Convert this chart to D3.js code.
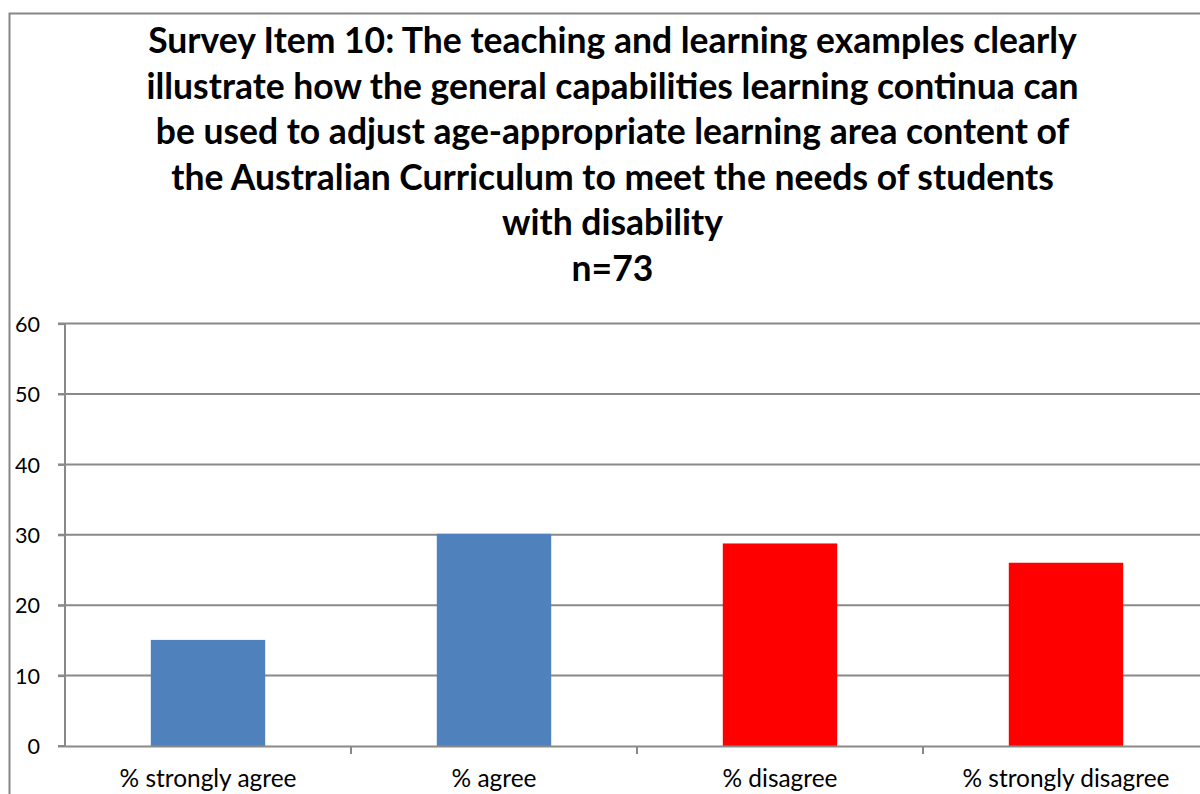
<!DOCTYPE html>
<html><head><meta charset="utf-8">
<script src="https://cdn.jsdelivr.net/npm/d3@7"></script>
<style>body{margin:0;background:#fff}svg{display:block}</style>
</head><body>
<script>
const categories = ["% strongly agree", "% agree", "% disagree", "% strongly disagree"];
const values = [15.07, 30.14, 28.77, 26.03];
const colors = ["#4F81BD", "#4F81BD", "#FF0000", "#FF0000"];
const yTicks = [0, 10, 20, 30, 40, 50, 60];
const titleLines = [
  "Survey Item 10: The teaching and learning examples clearly",
  "illustrate how the general capabilities learning continua can",
  "be used to adjust age-appropriate learning area content of",
  "the Australian Curriculum to meet the needs of students",
  "with disability",
  "n=73"
];

const W = 1200, H = 794;
const svg = d3.select("body").append("svg").attr("width", W).attr("height", H);
svg.append("rect").attr("x", 9.5).attr("y", 13.5).attr("width", 1205).attr("height", 800)
  .attr("fill", "#fff").attr("stroke", "#868686").attr("stroke-width", 2);

const font = "Lato, 'Open Sans', sans-serif";
const plot = {x0: 65, x1: 65 + 4 * 286, y0: 746, y1: 323.6};
const x = d3.scaleBand().domain(categories).range([plot.x0, plot.x1]).paddingInner(0.6).paddingOuter(0.3);
const xb = d3.scaleBand().domain(categories).range([plot.x0, plot.x1]);
const y = d3.scaleLinear().domain([0, 60]).range([plot.y0, plot.y1]);

function fitSize(sel, text, target, weight) {
  const t = svg.append("text").attr("font-family", font).attr("font-size", 100)
    .attr("font-weight", weight || "normal").text(text);
  const w = t.node().getComputedTextLength();
  t.remove();
  return 100 * target / w;
}

// gridlines
svg.append("g").selectAll("line").data(yTicks.filter(d => d > 0)).join("line")
  .attr("x1", plot.x0 - 7).attr("x2", W + 20)
  .attr("y1", d => y(d)).attr("y2", d => y(d))
  .attr("stroke", "#898989").attr("stroke-width", 2);

// bars
svg.append("g").selectAll("rect").data(values).join("rect")
  .attr("x", (d, i) => x(categories[i])).attr("width", x.bandwidth())
  .attr("y", d => y(d)).attr("height", d => y(0) - y(d))
  .attr("fill", (d, i) => colors[i]);

// y axis
const ySize = fitSize(svg, "10", 25);
const ya = svg.append("g").attr("transform", `translate(${plot.x0},0)`)
  .call(d3.axisLeft(y).tickValues(yTicks).tickSize(7).tickFormat(d3.format("d")));
ya.select(".domain").attr("stroke", "#898989").attr("stroke-width", 2).attr("d", `M-7,${y(0)}H0V${y(60)}`);
ya.selectAll(".tick line").attr("stroke", "#898989").attr("stroke-width", 2);
ya.selectAll(".tick text").attr("font-family", font).attr("font-size", ySize).attr("fill", "#000")
  .attr("x", -25).attr("dy", "0.36em").attr("text-anchor", "end");

// x axis
const xSize = fitSize(svg, categories[0], 177);
const xa = svg.append("g").attr("transform", `translate(0,${plot.y0})`)
  .call(d3.axisBottom(xb).tickSize(0));
xa.select(".domain").attr("stroke", "#898989").attr("stroke-width", 2);
xa.selectAll(".tick text").attr("font-family", font).attr("font-size", xSize).attr("fill", "#000")
  .attr("y", 41).attr("dy", 0);
svg.append("g").selectAll("line").data(categories.slice(1)).join("line")
  .attr("x1", d => xb(d)).attr("x2", d => xb(d))
  .attr("y1", plot.y0).attr("y2", plot.y0 + 8)
  .attr("stroke", "#898989").attr("stroke-width", 2);

// title
const tSize = fitSize(svg, titleLines[0], 929, "bold");
svg.append("g").selectAll("text").data(titleLines).join("text")
  .attr("x", 612.5).attr("y", (d, i) => 53 + i * 45.6)
  .attr("text-anchor", "middle").attr("font-family", font).attr("font-weight", "bold")
  .attr("font-size", tSize).attr("fill", "#000").text(d => d);
</script>
</body></html>
